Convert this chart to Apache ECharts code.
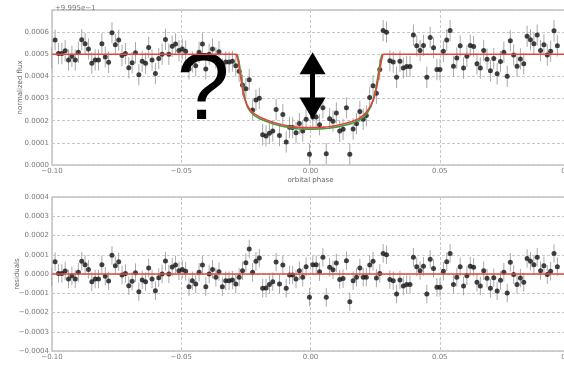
<!DOCTYPE html>
<html>
<head>
<meta charset="utf-8">
<script src="https://cdn.jsdelivr.net/npm/echarts@6/dist/echarts.min.js"></script>
<style>
html, body { margin: 0; padding: 0; background: #fff; }
#chart { width: 564px; height: 365px; }
</style>
</head>
<body>
<div id="chart"></div>
<script>
// Orbital phase of each binned observation
const phases = [
  -0.1001,-0.0988,-0.0975,-0.0962,-0.0949,-0.0936,-0.0923,-0.0910,-0.0898,-0.0885,
  -0.0872,-0.0859,-0.0846,-0.0833,-0.0820,-0.0807,-0.0794,-0.0781,-0.0768,-0.0755,
  -0.0742,-0.0729,-0.0716,-0.0703,-0.0690,-0.0677,-0.0664,-0.0651,-0.0638,-0.0626,
  -0.0613,-0.0600,-0.0587,-0.0574,-0.0561,-0.0548,-0.0535,-0.0522,-0.0509,-0.0496,
  -0.0483,-0.0470,-0.0457,-0.0444,-0.0431,-0.0418,-0.0405,-0.0392,-0.0379,-0.0366,
  -0.0354,-0.0341,-0.0328,-0.0315,-0.0302,-0.0289,-0.0276,-0.0263,-0.0250,-0.0237,
  -0.0224,-0.0211,-0.0198,-0.0185,-0.0172,-0.0159,-0.0146,-0.0133,-0.0120,-0.0107,
  -0.0094,-0.0081,-0.0069,-0.0056,-0.0043,-0.0030,-0.0017,-0.0004,0.0009,0.0022,
  0.0035,0.0048,0.0061,0.0074,0.0087,0.0100,0.0113,0.0126,0.0139,0.0152,
  0.0165,0.0178,0.0191,0.0204,0.0216,0.0229,0.0242,0.0255,0.0268,0.0281,
  0.0294,0.0307,0.0320,0.0333,0.0346,0.0359,0.0372,0.0385,0.0398,0.0411,
  0.0424,0.0437,0.0450,0.0463,0.0476,0.0489,0.0501,0.0514,0.0527,0.0540,
  0.0553,0.0566,0.0579,0.0592,0.0605,0.0618,0.0631,0.0644,0.0657,0.0670,
  0.0683,0.0696,0.0709,0.0722,0.0735,0.0748,0.0761,0.0773,0.0786,0.0799,
  0.0812,0.0825,0.0838,0.0851,0.0864,0.0877,0.0890,0.0903,0.0916,0.0929,
  0.0942,0.0955
];

// Normalized flux above the 0.9995 offset, in parts per million
const fluxPpm = [
  483,564,503,503,516,474,491,474,509,566,
  548,524,460,474,474,548,488,464,597,543,
  564,495,503,439,462,507,408,469,460,531,
  474,413,481,500,567,500,536,547,517,524,
  514,434,465,448,509,547,434,500,524,483,
  512,434,465,465,469,448,423,361,344,385,
  248,293,301,137,131,143,153,251,133,228,
  104,170,169,146,187,153,207,48,217,217,
  182,258,51,209,198,235,153,161,258,49,
  163,186,242,207,223,305,358,324,431,607,
  600,471,465,396,469,438,445,445,587,538,
  517,540,396,576,529,431,431,514,564,607,
  446,483,538,438,491,540,535,457,438,517,
  478,426,481,412,467,509,401,561,497,446,
  479,457,581,566,548,587,517,543,497,514,
  606,538
];

// Residuals after subtracting the transit model, in parts per million
const residPpm = [
  -17,64,3,3,16,-26,-9,-26,9,66,
  48,24,-40,-26,-26,48,-12,-36,97,43,
  64,-5,3,-61,-38,7,-92,-31,-40,31,
  -26,-87,-19,0,67,0,36,47,17,24,
  14,-66,-35,-52,9,47,-66,0,24,-17,
  12,-66,-35,-35,-31,-52,-17,17,59,130,
  9,66,83,-74,-73,-55,-40,62,-52,47,
  -74,-5,-5,-26,17,-17,38,-121,48,48,
  12,87,-121,35,22,57,-28,-24,69,-144,
  -35,-17,31,-17,-17,47,66,-21,3,107,
  100,-29,-35,-104,-31,-62,-55,-55,87,38,
  17,40,-104,76,29,-69,-69,14,64,107,
  -54,-17,38,-62,-9,40,35,-43,-62,17,
  -22,-74,-19,-88,-33,9,-99,61,-3,-54,
  -21,-43,81,66,48,87,17,43,-3,14,
  106,38
];

// Half-length of each error bar, ppm
const errPpm = 48;

// Fitted transit model (red)
const redPhase = [-0.1000,-0.0287,-0.0280,-0.0272,-0.0264,-0.0256,-0.0246,-0.0233,-0.0215,-0.0195,
  -0.0170,-0.0140,-0.0110,-0.0080,-0.0050,-0.0020,0.0010,0.0040,0.0070,0.0100,
  0.0130,0.0160,0.0185,0.0205,0.0220,0.0233,0.0245,0.0256,0.0266,0.0274,0.0280,0.1000];
const redFlux = [500,500,470,410,350,305,272,248,230,216,
  203,191,182,175,171,169,169,170,173,178,
  186,196,208,225,245,268,300,350,415,470,500,500];

// Alternative model (green), in-transit only
const greenPhase = [-0.0284,-0.0277,-0.0270,-0.0262,-0.0254,-0.0244,-0.0232,-0.0215,-0.0195,-0.0170,
  -0.0140,-0.0110,-0.0080,-0.0050,-0.0020,0.0010,0.0040,0.0070,0.0100,0.0130,
  0.0160,0.0185,0.0205,0.0220,0.0232,0.0243,0.0253,0.0262,0.0270,0.0276];
const greenFlux = [500,470,415,350,300,262,240,222,208,196,
  184,175,168,164,162,162,163,166,171,178,
  188,200,215,235,260,295,345,410,465,500];

const LABEL_FONT = 'DejaVu Sans';
const LABEL_COLOR = '#7a7a7a';
const uminus = s => s.replace('-', '\u2212');

const chart = echarts.init(document.getElementById('chart'), null, { renderer: 'canvas' });

function barData(values) {
  return phases.map((p, i) => [p, values[i] - errPpm, values[i] + errPpm]);
}
function renderBar(params, api) {
  const lo = api.coord([api.value(0), api.value(1)]);
  const hi = api.coord([api.value(0), api.value(2)]);
  return {
    type: 'line',
    shape: { x1: lo[0], y1: lo[1], x2: hi[0], y2: hi[1] },
    style: { stroke: '#a9a9a9', lineWidth: 1 }
  };
}

const gridStyle = { show: true, borderColor: '#c2c2c2', borderWidth: 1.5, outerBoundsMode: 'none', backgroundColor: 'transparent' };
const splitStyle = { show: true, lineStyle: { color: '#c8c8c8', type: [3, 2], width: 1 } };
const axisLabelBase = { fontSize: 7, color: LABEL_COLOR, fontFamily: LABEL_FONT };

function xAxisCfg(gridIndex, name) {
  return {
    type: 'value', gridIndex, min: -0.1, max: 0.1, interval: 0.05,
    axisLine: { show: false }, axisTick: { show: false }, splitLine: splitStyle,
    axisLabel: Object.assign({ margin: 3, formatter: v => uminus(v.toFixed(2)) }, axisLabelBase),
    name: name, nameLocation: 'middle', nameGap: 12, nameMoveOverlap: false,
    nameTextStyle: { fontSize: 7, color: '#666', fontFamily: LABEL_FONT }
  };
}
function yAxisCfg(gridIndex, min, max, name, showMax, gap) {
  return {
    type: 'value', gridIndex, min, max, interval: 100,
    axisLine: { show: false }, axisTick: { show: false }, splitLine: splitStyle,
    axisLabel: Object.assign({ margin: 3, showMaxLabel: showMax, formatter: v => uminus((v / 1e6).toFixed(4)) }, axisLabelBase),
    name: name, nameLocation: 'middle', nameGap: gap, nameMoveOverlap: false,
    nameTextStyle: { fontSize: 7, color: '#666', fontFamily: LABEL_FONT }
  };
}

chart.setOption({
  animation: false,
  backgroundColor: '#fff',
  title: {
    text: '+9.995e\u22121', left: 50, top: 0,
    textStyle: { fontSize: 7, color: LABEL_COLOR, fontWeight: 'normal', fontFamily: LABEL_FONT }
  },
  grid: [
    Object.assign({ left: 52, right: -5, top: 10, height: 155 }, gridStyle),
    Object.assign({ left: 52, right: -5, top: 197, height: 154 }, gridStyle)
  ],
  xAxis: [xAxisCfg(0, 'orbital phase'), xAxisCfg(1, '')],
  yAxis: [
    yAxisCfg(0, 0, 700, 'normalized flux', false, 28),
    yAxisCfg(1, -400, 400, 'residuals', true, 31)
  ],
  series: [
    {
      type: 'custom', xAxisIndex: 0, yAxisIndex: 0, z: 1, silent: true,
      renderItem: renderBar, encode: { x: 0, y: [1, 2] }, data: barData(fluxPpm)
    },
    {
      type: 'scatter', xAxisIndex: 0, yAxisIndex: 0, z: 3, silent: true,
      symbolSize: 5, itemStyle: { color: '#141414' },
      data: phases.map((p, i) => [p, fluxPpm[i]])
    },
    {
      type: 'line', xAxisIndex: 0, yAxisIndex: 0, z: 4, silent: true, showSymbol: false,
      lineStyle: { color: '#3f9d3f', width: 1.6 },
      data: greenPhase.map((p, i) => [p, greenFlux[i]])
    },
    {
      type: 'line', xAxisIndex: 0, yAxisIndex: 0, z: 5, silent: true, showSymbol: false,
      lineStyle: { color: '#e2453c', width: 1.6 },
      data: redPhase.map((p, i) => [p, redFlux[i]])
    },
    {
      // annotations: question mark and double-headed arrow across the transit depth
      type: 'line', xAxisIndex: 0, yAxisIndex: 0, z: 10, silent: true, data: [],
      markPoint: {
        silent: true, symbol: 'circle', symbolSize: 1,
        itemStyle: { color: 'rgba(0,0,0,0)' },
        label: { show: true, position: 'inside', formatter: '?', fontSize: 95, color: '#000', fontFamily: 'Liberation Sans' },
        data: [{ coord: [-0.0415, 327] }]
      },
      markLine: {
        silent: true, symbol: ['triangle', 'triangle'], symbolSize: [26, 22],
        lineStyle: { color: '#000', width: 5, type: 'solid' },
        itemStyle: { color: '#000' },
        label: { show: false }, emphasis: { disabled: true },
        data: [[{ coord: [0.0008, 255] }, { coord: [0.0008, 459] }]]
      }
    },
    {
      type: 'custom', xAxisIndex: 1, yAxisIndex: 1, z: 1, silent: true,
      renderItem: renderBar, encode: { x: 0, y: [1, 2] }, data: barData(residPpm)
    },
    {
      type: 'scatter', xAxisIndex: 1, yAxisIndex: 1, z: 3, silent: true,
      symbolSize: 5, itemStyle: { color: '#141414' },
      data: phases.map((p, i) => [p, residPpm[i]])
    },
    {
      type: 'line', xAxisIndex: 1, yAxisIndex: 1, z: 5, silent: true, showSymbol: false,
      lineStyle: { color: '#e2453c', width: 1.6 },
      data: [[-0.1, 0], [0.1, 0]]
    }
  ]
});
</script>
</body>
</html>
